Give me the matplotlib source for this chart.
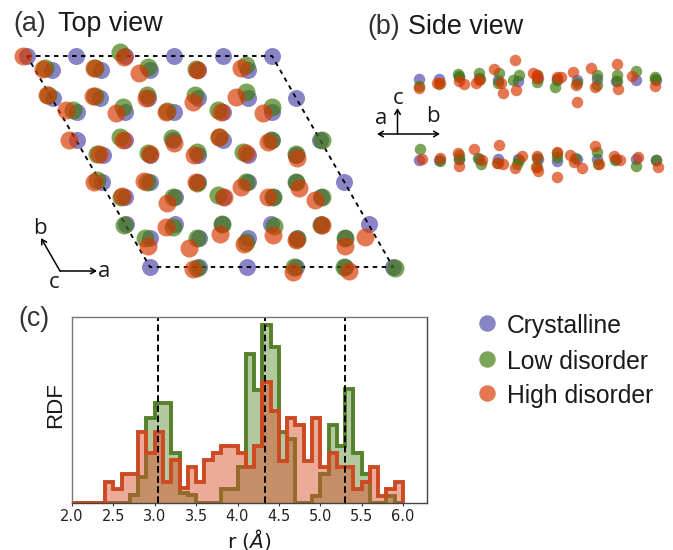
import matplotlib
matplotlib.use("Agg")
import matplotlib.pyplot as plt
import numpy as np

plt.rcParams['font.family'] = ['Liberation Sans', 'DejaVu Sans']
W, H = 673, 550
BLUE, GREEN, RED = '#514aab', '#3f7a0c', '#d83800'
GREEN_E, RED_E = '#55812a', '#cb4a22'

# ---- top view sites (picture coordinates)
top_blue_x = [27,76,125,174,223,272, 52,101,150,198,248, 53,100,148,198,248,296,
              77,125,174,223,272, 77,125,173,223,272,320, 103,150,198,248,296,
              102,150,198,248,296,344, 125,175,223,273,321, 126,175,222,271,321,369,
              150,199,248,297,345, 150,199,247,296,345,393]
top_blue_y = [56]*6 + [70]*5 + [98]*6 + [112]*5 + [140]*6 + [155]*5 + [182]*6 + [197]*5 + \
             [224]*6 + [238]*5 + [267]*6
top_green_x = [120, 45,95,148,196,246, 48,95,147,195,246, 73,123,167,218,272,
               120,172,219,271,322, 97,148,197,243,296, 97,147,197,246,296,
               121,173,218,273,322, 124,173,222,274,321, 145,197,246,297,345,
               197,294,344,395]
top_green_y = [52, 68,68,67,69,65, 95,96,95,95,92, 110,107,111,110,107,
               137,138,137,140,140, 154,153,152,152,154, 180,182,183,182,182,
               197,197,195,197,197, 225,227,224,226,225, 238,238,242,239,238,
               268,267,267,268]
top_red_x = [23,124, 43,94,139,197,241, 47,93,146,193,236, 66,116,166,221,263,
             69,123,174,219,268, 99,150,194,246,297, 94,144,196,241,299,
             122,167,224,268,315, 166,220,273,322,365, 148,189,244,296,345,
             193,293,349]
top_red_y = [56,57, 69,68,73,70,68, 95,96,98,102,97, 110,113,112,112,113,
             140,140,143,137,142, 154,154,155,153,158, 182,181,182,187,188,
             196,203,197,197,200, 227,234,235,225,237, 246,248,244,240,246,
             269,272,271]

# ---- side view sites (picture coordinates)
side_blue_x = [419,439,459,479,498,518,538,557,577,597,616,636,656]*2
side_blue_y = [79,79,77,78,80,81,78,79,80,79,81,80,80, 160,160,159,159,159,159,159,161,159,159,159,159,160]
side_green_x = [419,439,458,459,479,480,499,498,513,519,537,537,557,555,577,597,597,617,617,636,655,655,
                420,440,459,459,478,481,498,517,519,537,537,557,557,575,597,598,615,636,656]
side_green_y = [86,84,74,76,73,79,73,83,80,75,75,82,80,87,83,75,85,75,81,71,77,79,
                149,161,155,159,158,164,163,164,160,167,158,157,153,158,152,164,160,166,160]
side_red_x = [419,437,440,459,464,476,479,494,501,503,515,516,533,537,537,557,561,573,576,577,591,595,617,618,632,655,
              422,440,458,459,474,482,499,497,503,515,522,537,536,538,557,557,570,574,582,595,599,614,620,638,658]
side_red_y = [88,83,83,81,84,83,80,69,83,93,60,90,73,78,75,77,77,72,85,102,68,87,64,89,76,86,
              159,158,153,166,149,160,145,163,164,168,156,156,167,171,152,177,155,162,168,146,164,156,160,157,167]

# ---- RDF histogram
bin_edges = [2.0,2.1,2.2,2.3,2.4,2.5,2.6,2.7,2.8,2.9,3.0,3.1,3.2,3.3,3.4,3.5,3.6,3.7,3.8,3.9,
             4.0,4.1,4.2,4.3,4.4,4.5,4.6,4.7,4.8,4.9,5.0,5.1,5.2,5.3,5.4,5.5,5.6,5.7,5.8,5.9,6.0]
rdf_low = [0,0,0,0,0,0,0,.038,.14,.457,.534,.534,.266,.05,.038,0,0,0,.075,.075,
           .19,.803,.606,.955,.839,.38,.342,0,0,.036,.152,.417,.305,.61,.265,.152,0,0,.036,0]
rdf_high = [0,0,0,0,.113,.073,.152,.152,.382,.266,.382,.113,.229,.077,.19,.113,.229,.268,.306,.306,
            .266,.19,.305,.647,.495,.226,.457,.418,.226,.457,.19,.266,.19,.19,.073,.113,.19,.036,.073,.113]
rdf_ref = [3.04, 4.33, 5.295]
rdf_ticks = [2.0,2.5,3.0,3.5,4.0,4.5,5.0,5.5,6.0]

# ---- legend
legend_names = ['Crystalline', 'Low disorder', 'High disorder']

fig = plt.figure(figsize=(W/100, H/100), dpi=100)
ov = fig.add_axes([0, 0, 1, 1], zorder=2)
ov.set_xlim(0, W); ov.set_ylim(H, 0); ov.axis('off')

def px(d):
    return (d * 72 / 100) ** 2

A = 0.68
ov.scatter(top_blue_x, top_blue_y, s=px(17), c=BLUE, alpha=A, lw=0, zorder=2)
ov.plot([27,272,393,150,27], [56,56,267,267,56], color='k', lw=1.35, ls=(0,(2.4,2.4)), zorder=3)
ov.scatter(top_green_x, top_green_y, s=px(18), c=GREEN, alpha=A, lw=0, zorder=4)
ov.scatter(top_red_x, top_red_y, s=px(18), c=RED, alpha=A, lw=0, zorder=5)

ov.scatter(side_blue_x, side_blue_y, s=px(11.5), c=BLUE, alpha=A, lw=0, zorder=2)
ov.scatter(side_green_x, side_green_y, s=px(11.5), c=GREEN, alpha=A, lw=0, zorder=3)
ov.scatter(side_red_x, side_red_y, s=px(11.5), c=RED, alpha=A, lw=0, zorder=4)

ax = fig.add_axes([72/W, 1-502.5/H, (427-72)/W, (502.5-317)/H], zorder=1)
ax.set_xlim(2.0, 2.0+(427-72)/82.75); ax.set_ylim(0, 1)
for vals, ec, fc in [(rdf_low, GREEN_E, '#5f8f3a'), (rdf_high, RED_E, '#d9502a')]:
    ax.stairs(vals, bin_edges, fill=True, color=fc, alpha=.48, lw=0)
    ax.stairs(vals, bin_edges, color=ec, lw=2.8, baseline=0)
for r in rdf_ref:
    ax.axvline(r, color='k', lw=1.4, ls=(0,(3.4,1.8)))
ax.set_xticks(rdf_ticks); ax.set_yticks([])
ax.tick_params(axis='x', labelsize=10.5, length=2.5, width=.8, pad=2.4, color='#333333')
for lab in ax.get_xticklabels():
    lab.set_family('DejaVu Sans')
    lab.set_color('#222222')
for s in ['top','left']:
    ax.spines[s].set_color('#777777')
for s in ['right','bottom']:
    ax.spines[s].set_color('#444444')
for s in ax.spines.values():
    s.set_linewidth(1.0)

def T(x, y, s, size, **kw):
    kw.setdefault('color', '#1a1a1a')
    ov.text(x, y, s, fontsize=size, ha=kw.pop('ha','left'), va=kw.pop('va','center'), **kw)

T(13, 24, '(a)', 19.4, color='#333333')
T(58, 24, 'Top view', 19.4)
T(367, 27, '(b)', 19.4, color='#333333')
T(408, 27, 'Side view', 19.4)
T(18, 319, '(c)', 19.4, color='#333333')
T(56, 405, 'RDF', 16, rotation=90, ha='center')
T(249, 539, r'r ($\mathit{\AA}$)', 14.5, ha='center', family='DejaVu Sans', math_fontfamily='dejavusans')

def arrow(x0, y0, x1, y1, style='->'):
    ov.annotate('', xy=(x1, y1), xytext=(x0, y0),
                arrowprops=dict(arrowstyle=style+',head_length=0.35,head_width=0.2', lw=1.1, color='k',
                                shrinkA=0, shrinkB=0))
arrow(60, 271, 97, 271); arrow(60, 271, 41, 238)
arrow(397.5, 134, 397.5, 108); arrow(397.5, 134, 377, 134); arrow(397.5, 134, 440, 134)
for x, y, s in [(104,271.5,'a'), (40,228,'b'), (54,282.5,'c'), (398,98,'c'), (381,118,'a'), (433,116,'b')]:
    T(x, y, s, 16, ha='center', family='Open Sans')

for y, name, c in zip([323, 359, 393], legend_names, [BLUE, GREEN, RED]):
    ov.scatter([487], [y], s=px(16.5), c=c, alpha=A, lw=0)
    T(507, y+3, name, 17.8)

fig.savefig('out.png', dpi=100)
